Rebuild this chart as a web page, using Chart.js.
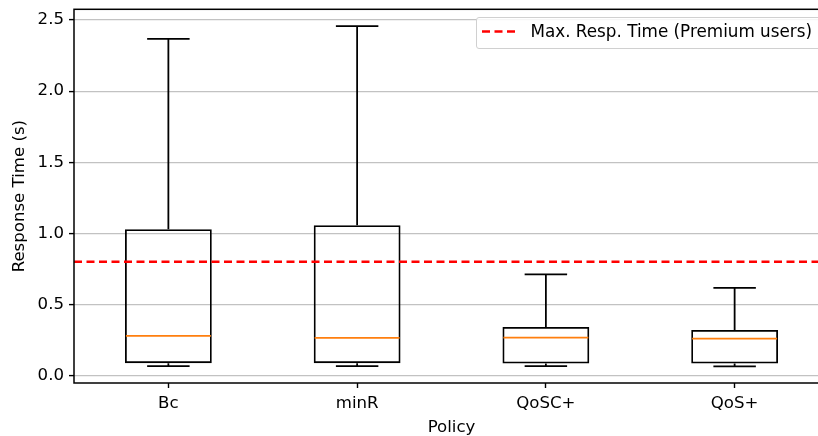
<!DOCTYPE html>
<html>
<head>
<meta charset="utf-8">
<script src="https://cdn.jsdelivr.net/npm/chart.js@4"></script>
<style>
  html, body { margin: 0; padding: 0; background: #fff; overflow: hidden; }
  #wrap { position: relative; width: 840px; height: 436px; }
  #c { position: absolute; left: 0; top: 0; }
  .lg-box { position: absolute; left: 476px; top: 17px; width: 344px; height: 30px;
            border: 1px solid #d0d0d0; border-radius: 3px; background: rgba(255,255,255,0.85); }
  .lg-sample { position: absolute; left: 482px; top: 29px; }
  .lg-text { position: absolute; left: 530.5px; top: 22.5px; font-family: 'DejaVu Sans'; font-size: 16.8px;
             line-height: 16.5px; color: #000; white-space: nowrap; }
</style>
</head>
<body>
<div id="wrap">
  <canvas id="c" width="840" height="436"></canvas>
  <div class="lg-box"></div>
  <svg class="lg-sample" width="36" height="5"><line x1="0" y1="2.5" x2="34" y2="2.5" stroke="#ff0000" stroke-width="2.6" stroke-dasharray="8,4.5"/></svg>
  <span class="lg-text" id="lgText"></span>
</div>
<script>
// ---- data ----
const categories  = ['Bc', 'minR', 'QoSC+', 'QoS+'];
const whiskerLow  = [0.066, 0.066, 0.066, 0.064];
const q1          = [0.087, 0.087, 0.084, 0.084];
const median      = [0.279, 0.265, 0.267, 0.260];
const q3          = [1.029, 1.057, 0.342, 0.321];
const whiskerHigh = [2.368, 2.457, 0.712, 0.616];
const threshold   = 0.8;
const thresholdLabel = 'Max. Resp. Time (Premium users)';
const yTicks      = [0, 0.5, 1.0, 1.5, 2.0, 2.5];
const xTitle = 'Policy';
const yTitle = 'Response Time (s)';

document.getElementById('lgText').textContent = thresholdLabel;

const boxWidth = 0.45;              // in x units
const half = boxWidth / 2;
const capHalf = boxWidth / 4;

const pos = categories.map((c, i) => i + 1);

const boxData = pos.map((p, i) => ({ x: p, y: [q1[i], q3[i]] }));
const whiskerData = [];
const capData = [];
const medianData = [];
pos.forEach((p, i) => {
  whiskerData.push({ x: p, y: whiskerLow[i] }, { x: p, y: q1[i] }, { x: p, y: null });
  whiskerData.push({ x: p, y: q3[i] }, { x: p, y: whiskerHigh[i] }, { x: p, y: null });
  capData.push({ x: p - capHalf, y: whiskerLow[i] }, { x: p + capHalf, y: whiskerLow[i] }, { x: p, y: null });
  capData.push({ x: p - capHalf, y: whiskerHigh[i] }, { x: p + capHalf, y: whiskerHigh[i] }, { x: p, y: null });
  medianData.push({ x: p - half, y: median[i] }, { x: p + half, y: median[i] }, { x: p, y: null });
});
const xMin = 0.5, xMax = categories.length + 0.5;
const thresholdData = [{ x: xMin, y: threshold }, { x: xMax, y: threshold }];

Chart.defaults.font.family = 'DejaVu Sans';
Chart.defaults.font.size = 16.6;
Chart.defaults.color = '#000';

const framePlugin = {
  id: 'frame',
  afterDatasetsDraw(chart) {
    const a = chart.chartArea, ctx = chart.ctx;
    ctx.save();
    ctx.strokeStyle = '#000';
    ctx.lineWidth = 1.5;
    ctx.strokeRect(a.left, a.top, a.right - a.left, a.bottom - a.top);
    ctx.restore();
  }
};

const lineCommon = { type: 'line', pointRadius: 0, spanGaps: false, fill: false, tension: 0, borderCapStyle: 'butt' };

new Chart(document.getElementById('c'), {
  type: 'bar',
  data: {
    datasets: [
      { ...lineCommon, label: 'whiskers', data: whiskerData, borderColor: '#000', borderWidth: 1.8, order: 3 },
      { ...lineCommon, label: 'caps', data: capData, borderColor: '#000', borderWidth: 1.8, order: 3 },
      { type: 'bar', label: 'boxes', data: boxData, borderColor: '#000', borderWidth: 1.8,
        backgroundColor: 'rgba(0,0,0,0)', borderSkipped: false, barPercentage: boxWidth + 0.01, categoryPercentage: 1,
        grouped: false, order: 2 },
      { ...lineCommon, label: 'medians', data: medianData, borderColor: '#ff7f0e', borderWidth: 1.8, order: 1 },
      { ...lineCommon, label: thresholdLabel, data: thresholdData, borderColor: '#ff0000', borderWidth: 2.6,
        borderDash: [8, 4.5], order: 0 }
    ]
  },
  options: {
    responsive: false,
    animation: false,
    layout: { padding: { top: 9.3, right: 11, left: 0, bottom: 0 } },
    plugins: { legend: { display: false }, tooltip: { enabled: false } },
    scales: {
      x: {
        type: 'linear', min: xMin, max: xMax, offset: false,
        grid: { offset: false, drawOnChartArea: false, drawTicks: true, tickLength: 5, tickColor: '#000', tickWidth: 1.4 },
        border: { display: false },
        afterBuildTicks(scale) { scale.ticks = pos.map(v => ({ value: v })); },
        afterFit(scale) { scale.height = 53; scale.paddingLeft = 0; scale.paddingRight = 0; },
        ticks: { padding: 6, maxRotation: 0, autoSkip: false,
                 callback: (v) => categories[Math.round(v) - 1] ?? '' },
        title: { display: true, text: xTitle, font: { lineHeight: 1 }, padding: { top: 0, bottom: 0 } }
      },
      y: {
        type: 'linear', min: -0.0525, max: 2.5755, beginAtZero: false,
        grid: { color: '#c2c2c2', lineWidth: 1.2, drawTicks: true, tickLength: 5, tickColor: '#000', tickWidth: 1.4 },
        border: { display: false },
        afterBuildTicks(scale) { scale.ticks = yTicks.map(v => ({ value: v })); },
        afterFit(scale) { scale.width = 74; scale.paddingTop = 0; scale.paddingBottom = 0; },
        ticks: { padding: 5, callback: (v) => v.toFixed(1) },
        title: { display: true, text: yTitle, padding: { top: 10, bottom: 0 } }
      }
    }
  },
  plugins: [framePlugin]
});
</script>
</body>
</html>
